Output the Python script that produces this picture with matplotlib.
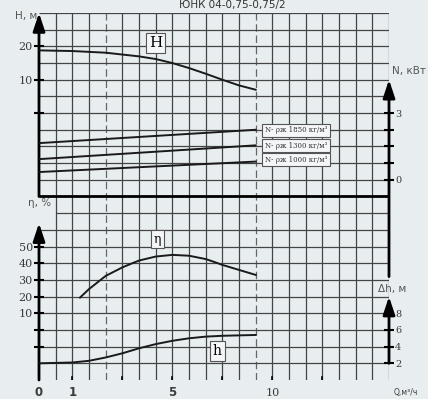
import matplotlib
matplotlib.use('Agg')
import matplotlib.pyplot as plt
import numpy as np

# x positions are grid columns (the Q scale of the original is not linear)
q_ticks = [2, 5, 8, 11, 14, 17]
q_labels = {0: '0', 2: '1', 8: '5', 14: '10'}

# head H, м
h_q = [0, 2, 4, 6, 7, 8, 9, 10, 11, 12, 13]
h_val = [18.8, 18.6, 18.1, 17.0, 16.2, 15.0, 13.5, 11.8, 10.0, 8.3, 7.0]

# power N, кВт for three densities
n_q = [0, 13]
n_1850 = [1.65, 2.25]
n_1300 = [0.93, 1.55]
n_1000 = [0.35, 0.82]
n_names = ['N- ρж 1850 кг/м³', 'N- ρж 1300 кг/м³', 'N- ρж 1000 кг/м³']

# efficiency η, %
eta_q = [2.46, 3, 4, 5, 5.6, 6, 7, 8, 9, 10, 10.45, 11, 12, 13]
eta_val = [19.4, 24.5, 32.4, 37.5, 40.0, 41.6, 44.0, 45.0, 44.5, 42.5, 41.0, 39.0, 36.0, 33.0]

# NPSH Δh, м
dh_q = [0, 2, 3, 4, 5, 6, 7, 8, 9, 10, 11, 13]
dh_val = [2.0, 2.1, 2.3, 2.7, 3.2, 3.8, 4.3, 4.7, 5.0, 5.2, 5.3, 5.4]

bg = '#e8eef0'
grid_c = '#444444'
txt_c = '#3a3a3a'

fig = plt.figure(figsize=(4.28, 3.99), dpi=100, facecolor=bg)
ax = fig.add_axes([39 / 428, 19 / 399, 350 / 428, 367 / 399])
ax.set_xlim(0, 21)
ax.set_ylim(0, 22)
ax.axis('off')

# grid
for i in range(1, 22):
    if i in (4, 13):
        ax.vlines(i, 0, 22, colors='#666666', lw=0.9, linestyles=(0, (6, 3)))
    else:
        ax.vlines(i, 0, 22, colors=grid_c, lw=0.9)
for j in range(1, 23):
    if j == 11:
        continue
    x0 = 1 if j == 10 else 0
    ax.hlines(j, x0, 21, colors=grid_c, lw=0.9)
ax.hlines(11, 0, 21, colors='black', lw=2)

# axes with arrows
arr = dict(arrowstyle='-|>,head_width=0.3,head_length=0.9', color='black', lw=2, mutation_scale=12,
           shrinkA=0, shrinkB=0)
ax.annotate('', xy=(0, 22), xytext=(0, 11), arrowprops=arr)
ax.annotate('', xy=(0, 9.4), xytext=(0, 0), arrowprops=arr)
ax.annotate('', xy=(21.1, 0), xytext=(0, 0), arrowprops=arr)
ax.annotate('', xy=(21, 18), xytext=(21, 6.2), arrowprops=arr)
ax.annotate('', xy=(21, 5), xytext=(21, 1), arrowprops=arr)

# x ticks
for t in q_ticks:
    ax.plot([t, t], [-0.2, 0.2], color='black', lw=1.2)
for t, s in q_labels.items():
    if s == '10':
        ax.text(t, -0.75, s, ha='center', va='center', fontsize=8, family='DejaVu Serif', color=txt_c)
    else:
        ax.text(t, -0.75, s, ha='center', va='center', fontsize=8.5, fontweight='bold', color=txt_c)
ax.text(22.0, -0.75, 'Q,м³/ч', ha='center', va='center', fontsize=5.5, color=txt_c)

# twin axes for each quantity
def twin(lo, hi):
    a = ax.twinx()
    a.set_ylim(lo, hi)
    a.patch.set_visible(False)
    for s in a.spines.values():
        s.set_visible(False)
    return a

axH = twin(-80, 30)
axN = twin(-9, 7.5)
axE = twin(-30, 190)
axD = twin(0, 44)

axH.yaxis.set_ticks_position('left')
axH.set_yticks([20, 10, 0], ['20', '10', ''])
axE.yaxis.set_ticks_position('left')
axE.set_yticks([50, 40, 30, 20, 10, 0, -10], ['50', '40', '30', '20', '10', '', ''])
axN.yaxis.set_ticks_position('right')
axN.set_yticks([3, 2.25, 1.5, 0.75, 0], ['3', '', '', '', '0'])
axD.yaxis.set_ticks_position('right')
axD.set_yticks([8, 6, 4, 2], ['8', '6', '4', '2'])
for a in (axH, axE, axN, axD):
    a.tick_params(axis='y', direction='inout', length=7, width=1.5, color='black', pad=1,
                  labelsize=8, labelcolor=txt_c)
    for lab in a.get_yticklabels():
        lab.set_family('DejaVu Serif')
for lab in axN.get_yticklabels() + axD.get_yticklabels():
    lab.set_fontsize(7)

# curves
axH.plot(h_q, h_val, color='#1a1a1a', lw=1.4)
axN.plot(n_q, n_1850, color='#1a1a1a', lw=1.4)
axN.plot(n_q, n_1300, color='#1a1a1a', lw=1.4)
axN.plot(n_q, n_1000, color='#1a1a1a', lw=1.4)
axE.plot(eta_q, eta_val, color='#1a1a1a', lw=1.4)
axD.plot(dh_q, dh_val, color='#1a1a1a', lw=1.4)

# curve labels
box = dict(boxstyle='square,pad=0.2', fc='#f4f6f7', ec='#555555', lw=0.8)
ax.text(7.0, 20.2, 'H', ha='center', va='center', fontsize=11, family='DejaVu Serif', bbox=box)
ax.text(7.1, 8.45, 'η', ha='center', va='center', fontsize=9, family='DejaVu Serif', bbox=box)
ax.text(10.7, 1.74, 'h', ha='center', va='center', fontsize=10, family='DejaVu Serif', bbox=box)
for y, s in zip([14.97, 14.04, 13.2], n_names):
    ax.text(13.55, y, s, ha='left', va='center', fontsize=5, family='DejaVu Serif', color='#333333',
            bbox=dict(boxstyle='square,pad=0.35', fc='#f4f6f7', ec='#555555', lw=0.8))

# axis names
ax.text(-0.1, 21.8, 'H, м', ha='right', va='center', fontsize=7.5, color='#555555')
ax.text(0.05, 10.6, 'η, %', ha='center', va='center', fontsize=7.5, color='#555555')
ax.text(21.2, 18.5, 'N, кВт', ha='left', va='center', fontsize=7.5, color='#555555')
ax.text(21.2, 5.45, 'Δh, м', ha='center', va='center', fontsize=7.5, color='#555555')

fig.text(232 / 428, 0.999, 'ЮНК 04-0,75-0,75/2', ha='center', va='top', fontsize=7.5, color='#333333')

fig.savefig('out.png', dpi=100, facecolor=bg)
